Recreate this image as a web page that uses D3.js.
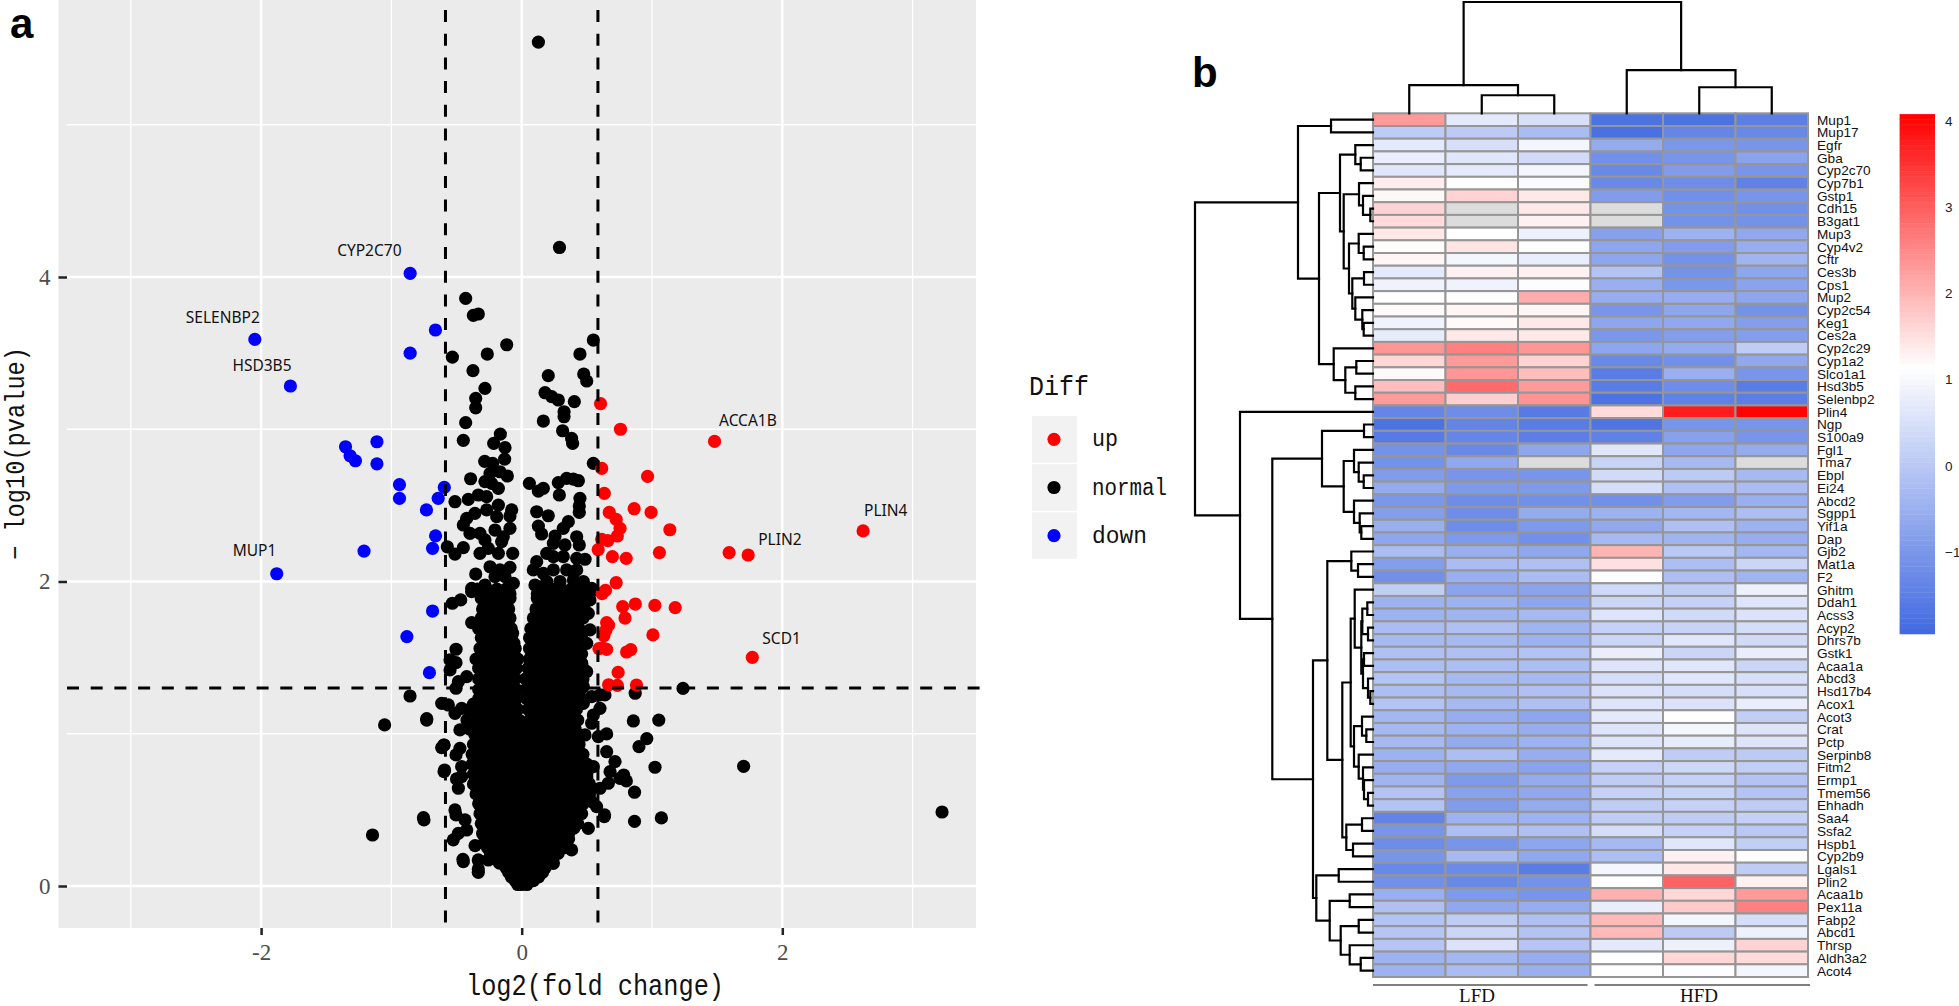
<!DOCTYPE html>
<html><head><meta charset="utf-8"><title>Volcano plot and heatmap</title>
<script src="https://cdn.jsdelivr.net/npm/d3@7/dist/d3.min.js"></script>
<style>html,body{margin:0;padding:0;background:#fff}svg{display:block}</style></head>
<body><svg id="c" width="1959" height="1006"></svg>
<script>
// ---------- Panel a data: [log2 fold change, -log10 p] ----------
const upPts=[[.605,3.168],[.758,3.0],[1.48,2.92],[.966,2.69],[.614,2.743],[.634,2.579],[.863,2.478],[.993,2.454],[.672,2.454],[.725,2.408],[1.137,2.34],[.755,2.349],[.734,2.299],[.614,2.277],[.661,2.268],[.587,2.209],[.696,2.163],[.802,2.152],[1.057,2.19],[1.592,2.19],[1.738,2.174],[2.62,2.332],[.725,1.992],[.643,1.942],[.617,1.92],[.775,1.835],[.872,1.852],[1.022,1.843],[1.178,1.828],[.793,1.76],[.667,1.714],[.652,1.73],[.646,1.68],[.631,1.644],[1.007,1.649],[.593,1.559],[.652,1.554],[.62,1.565],[.805,1.537],[.837,1.552],[1.77,1.502],[.74,1.403],[.667,1.322],[.734,1.318],[.881,1.32]];
const downPts=[[-.856,4.024],[-.662,3.652],[-.856,3.5],[-2.048,3.59],[-1.775,3.284],[-1.352,2.885],[-1.317,2.826],[-1.276,2.793],[-1.111,2.918],[-1.111,2.773],[-.938,2.636],[-.938,2.546],[-.594,2.618],[-.641,2.546],[-.731,2.47],[-.661,2.3],[-.684,2.218],[-.684,1.806],[-.881,1.638],[-.708,1.401],[-1.88,2.051],[-1.21,2.2]];
const normalScattered=[[.128,5.543],[.29,4.194],[-.43,3.86],[-.371,3.748],[-.333,3.757],[-.532,3.474],[-.374,3.385],[-.264,3.494],[-.115,3.555],[-.282,3.268],[-.353,3.203],[-.353,3.141],[-.43,3.043],[-.448,2.927],[-.164,2.968],[-.215,2.907],[-.128,2.879],[-.131,2.804],[-.284,2.789],[-.223,2.776],[-.392,2.675],[-.512,2.524],[-.41,2.539],[-.571,2.228],[-.512,2.18],[-.448,2.222],[-.353,2.049],[.55,3.586],[.447,3.494],[.204,3.352],[.476,3.363],[.499,3.317],[.179,3.24],[.23,3.214],[.281,3.192],[.404,3.181],[.325,3.115],[.325,3.082],[.166,3.054],[.314,2.99],[.383,2.94],[.391,2.907],[.55,2.776],[.059,2.645],[.128,2.594],[.166,2.612],[.289,2.568],[.281,2.649],[.345,2.677],[.396,2.673],[.435,2.662],[.447,2.546],[.442,2.496],[.442,2.454],[.115,2.458],[.204,2.432],[.128,2.364],[.153,2.312],[.422,2.294],[.358,2.393],[.319,2.349],[.256,2.299],[.442,2.24],
[-.243,2.71],[-.167,2.721],[-.11,2.693],[-.282,2.656],[-.231,2.645],[-.179,2.612],[-.333,2.568],[-.269,2.557],[-.179,2.502],[-.359,2.448],[-.422,2.415],[-.448,2.371],[-.397,2.316],[-.32,2.316],[-.269,2.47],[-.192,2.426],[-.205,2.338],[-.077,2.47],[-.09,2.43],[-.09,2.349],[-.141,2.294],[-.282,2.273],[-.154,2.262],[-.32,2.185],[-.256,2.218],[-.179,2.185],[-.069,2.185],[-.243,2.097],[-.167,2.076],[-.09,2.093],[-.205,2.032],[-.128,2.032],[-.064,1.988],[-.282,1.977],[-.384,1.955],
[.243,2.251],[.332,2.24],[.192,2.185],[.115,2.13],[.089,2.076],[.243,2.163],[.319,2.163],[.422,2.152],[.486,2.146],[.422,2.076],[.345,2.076],[.243,2.076],[.166,2.054],[.473,2.0],[.102,1.977],[.192,2.0],[.294,2.0],[.397,2.01],[.537,1.955],
[-.532,1.857],[-.468,1.879],[-.384,1.933],[-.384,1.73],[-.504,1.555],[-.55,1.485],[-.504,1.467],[-.55,1.419],[-.422,1.375],[-.486,1.342],[-.504,1.299],[-.614,1.2],[-.563,1.189],[-.461,1.167],[-.512,1.134],[-.474,1.025],[-.596,.926],[-.614,.909],[-.474,.904],[-.504,.861],[-.461,.784],[-.461,.718],[-.5,.703],[-.486,.642],[-.596,.751],[-.512,.5],[-.504,.467],[-.435,.434],[-.422,.368],[-.486,.346],[-.525,.303],[-.448,.16],[-.333,.171],[-.333,.09],[-.256,.171],[-.358,.265],[-.75,.434],[-.729,1.09],
[.634,.456],[.601,1.255],[.639,1.255],[.601,1.167],[.55,1.123],[.537,1.069],[.652,.999],[.588,.981],[.486,.992],[.652,.882],[.716,.817],[.678,.751],[.665,.675],[.601,.642],[.754,.707],[.537,.554],[.575,.521],[.511,.379],[.383,.237],[.243,.149],[.447,1.419],[.499,1.408],[.473,1.31],[.524,1.879],[.55,1.944],[.511,1.791],[.524,1.682],[.499,1.594],[.46,1.463],[.537,1.244],[.473,1.2],[.422,.5],[.55,.784],[.499,.718],
[-.857,1.248],[-1.052,1.058],[-.729,1.099],[-1.145,.335],[-.754,.449],[1.238,1.298],[.871,1.266],[.857,1.084],[1.052,1.09],[.96,.968],[.9,.915],[1.023,.78],[1.703,.786],[.866,.616],[.803,.69],[.783,.729],[.636,.467],[.866,.425],[1.072,.447],[3.226,.486],[-.597,.926],[-.592,.762],[-.451,.175],[-.333,.112]];
// dense body of the cloud, read row by row: [-log10 p, [log2 fold change ...]]
const normalRows=[
[1.95,[-.34,-.27,-.19,-.12,.15,.23,.30,.38,.45,.51]],
[1.92,[-.30,-.23,-.15,-.09,.12,.20,.27,.35,.42,.50]],
[1.89,[-.31,-.23,-.16,-.09,.12,.19,.27,.34,.42,.50]],
[1.855,[-.27,-.19,-.12,.15,.22,.30,.37,.45]],
[1.82,[-.30,-.22,-.15,-.10,.11,.18,.26,.33,.41,.48]],
[1.79,[-.28,-.20,-.13,.13,.21,.29,.36,.44]],
[1.76,[-.31,-.24,-.16,-.09,.09,.17,.24,.32,.39,.47]],
[1.725,[-.29,-.21,-.13,.11,.19,.27,.34,.42]],
[1.69,[-.33,-.26,-.18,-.11,-.08,.07,.15,.22,.30,.37,.44]],
[1.66,[-.29,-.21,-.14,-.07,.1,.18,.25,.33,.4,.46]],
[1.63,[-.31,-.23,-.16,-.08,.06,.13,.21,.28,.36,.43,.46]],
[1.595,[-.28,-.2,-.12,-.06,.09,.17,.25,.32,.4,.46]],
[1.56,[-.32,-.25,-.17,-.10,-.05,.06,.14,.21,.29,.37,.44]],
[1.525,[-.3,-.22,-.14,-.06,.09,.17,.25,.32,.4,.46]],
[1.49,[-.35,-.28,-.20,-.13,-.05,-.03,.06,.13,.20,.28,.35,.43]],
[1.46,[-.3,-.22,-.14,-.07,.08,.16,.24,.31,.38,.46]],
[1.43,[-.33,-.25,-.18,-.10,-.04,.05,.12,.20,.27,.35,.42,.47]],
[1.395,[-.3,-.22,-.15,-.07,.07,.15,.22,.3,.37,.45]],
[1.36,[-.33,-.27,-.19,-.12,-.05,.03,.11,.18,.26,.33,.41,.47]],
[1.325,[-.3,-.22,-.14,-.07,.06,.14,.21,.29,.36,.44]],
[1.29,[-.33,-.25,-.17,-.10,-.04,.03,.10,.17,.25,.32,.40,.45]],
[1.26,[-.3,-.22,-.14,-.07,.07,.14,.22,.29,.37,.44]],
[1.23,[-.33,-.27,-.19,-.12,-.04,.04,.11,.19,.26,.34,.41,.45]],
[1.195,[-.37,-.29,-.22,-.15,-.07,.08,.15,.23,.31,.38,.45]],
[1.16,[-.40,-.33,-.25,-.18,-.10,-.03,.05,.12,.20,.27,.35,.42]],
[1.125,[-.38,-.3,-.23,-.15,-.08,.09,.17,.24,.32,.4]],
[1.09,[-.42,-.35,-.27,-.20,-.12,-.05,-.02,.06,.13,.21,.28,.36,.43]],
[1.06,[-.36,-.29,-.21,-.14,-.06,.08,.15,.23,.3,.38]],
[1.03,[-.40,-.33,-.25,-.18,-.10,-.03,.04,.11,.19,.26,.34,.41]],
[.995,[-.36,-.29,-.22,-.14,-.07,0,.07,.15,.22,.3,.37,.43]],
[.96,[-.33,-.26,-.18,-.11,-.03,.03,.11,.18,.26,.33,.40]],
[.93,[-.37,-.29,-.22,-.14,-.07,.01,.08,.16,.23,.31,.38,.44]],
[.90,[-.33,-.25,-.18,-.10,-.03,.05,.12,.20,.27,.35,.40]],
[.865,[-.38,-.32,-.25,-.17,-.1,-.02,.05,.13,.2,.28,.35,.42,.47]],
[.83,[-.36,-.29,-.21,-.14,-.06,.01,.09,.16,.24,.31,.39,.45]],
[.80,[-.38,-.29,-.21,-.14,-.06,.01,.09,.16,.24,.31,.39,.45,.5]],
[.77,[-.33,-.25,-.18,-.10,-.03,.05,.12,.20,.27,.35,.42,.47]],
[.735,[-.37,-.31,-.24,-.16,-.08,-.01,.07,.14,.22,.29,.37,.44,.5]],
[.70,[-.35,-.28,-.20,-.13,-.05,.02,.10,.17,.25,.32,.40,.47,.50]],
[.67,[-.37,-.3,-.22,-.15,-.07,0,.08,.15,.23,.3,.38,.45,.52]],
[.64,[-.34,-.26,-.19,-.11,-.04,.04,.11,.19,.26,.34,.41,.49,.52]],
[.605,[-.35,-.28,-.21,-.14,-.07,.01,.08,.16,.23,.31,.38,.46,.52]],
[.57,[-.32,-.25,-.17,-.10,-.02,.05,.13,.20,.28,.35,.43,.48]],
[.54,[-.33,-.27,-.19,-.12,-.04,.03,.11,.18,.26,.33,.41,.47]],
[.51,[-.30,-.23,-.15,-.08,0,.07,.15,.22,.30,.37,.44]],
[.475,[-.32,-.25,-.17,-.1,-.02,.05,.13,.2,.27,.35,.42,.46]],
[.44,[-.29,-.21,-.14,-.06,.01,.09,.16,.24,.31,.39,.42]],
[.41,[-.31,-.24,-.16,-.09,-.01,.06,.14,.21,.28,.36,.43]],
[.38,[-.28,-.20,-.13,-.05,.03,.10,.18,.25,.33,.40]],
[.345,[-.3,-.24,-.16,-.09,-.01,.06,.14,.21,.28,.36]],
[.31,[-.28,-.21,-.13,-.06,.02,.09,.17,.24,.31,.36]],
[.28,[-.29,-.22,-.14,-.07,.01,.08,.16,.23,.3,.34]],
[.25,[-.26,-.18,-.11,-.03,.04,.12,.19,.27,.32]],
[.215,[-.24,-.16,-.09,-.01,.06,.14,.21,.28]],
[.18,[-.20,-.13,-.05,.02,.10,.17,.24]],
[.15,[-.17,-.09,-.02,.06,.13,.2]],
[.12,[-.12,-.05,.03,.10,.18]],
[.09,[-.1,-.02,.05,.12,.16]],
[.06,[-.08,-.01,.06,.13]],
[.035,[-.05,.02,.09]],
[.01,[-.03,.0,.04]]];
const volcanoLabels=[["CYP2C70",-.856,4.024],["SELENBP2",-2.048,3.59],["HSD3B5",-1.775,3.284],["MUP1",-1.88,2.051],["ACCA1B",1.48,2.92],["PLIN4",2.62,2.332],["PLIN2",1.738,2.174],["SCD1",1.77,1.502]];
const volcanoTicksX=[-2,0,2], volcanoMinorX=[-3,-1,1,3], volcanoTicksY=[0,2,4], volcanoMinorY=[1,3,5];
const cutoffsX=[-.585,.585], cutoffY=1.301;
const legendKeys=["up","normal","down"];

// ---------- Panel b data ----------
const genes=["Mup1","Mup17","Egfr","Gba","Cyp2c70","Cyp7b1","Gstp1","Cdh15","B3gat1","Mup3","Cyp4v2","Cftr","Ces3b","Cps1","Mup2","Cyp2c54","Keg1","Ces2a","Cyp2c29","Cyp1a2","Slco1a1","Hsd3b5","Selenbp2","Plin4","Ngp","S100a9","Fgl1","Tma7","Ebpl","Ei24","Abcd2","Sgpp1","Yif1a","Dap","Gjb2","Mat1a","F2","Ghitm","Ddah1","Acss3","Acyp2","Dhrs7b","Gstk1","Acaa1a","Abcd3","Hsd17b4","Acox1","Acot3","Crat","Pctp","Serpinb8","Fitm2","Ermp1","Tmem56","Ehhadh","Saa4","Ssfa2","Hspb1","Cyp2b9","Lgals1","Plin2","Acaa1b","Pex11a","Fabp2","Abcd1","Thrsp","Aldh3a2","Acot4"];
const _=null;
const expr=[
[2.3,.7,.5,-1.75,-1.75,-1.5],[.06,.05,-.25,-1.8,-1.35,-1.3],[.7,.5,.95,-.6,-1,-1.05],[.8,.65,.4,-1.15,-1.05,-.75],[.65,.7,.95,-1.3,-.9,-1.05],[1.35,1.15,1.05,-1.3,-1.2,-1.45],[1.22,1.65,1.4,-.9,-1.15,-1.05],[1.65,_,1.4,_,-1.1,-1.15],[1.55,_,1.3,_,-1.1,-1.1],[1.4,1.12,.85,-.8,-.45,-.65],[1.18,1.45,1.12,-.7,-.9,-.55],[1.25,.95,.8,-.7,-1.1,-.4],[.7,1.3,1.3,-.1,-1.1,-.7],[.9,.9,1.1,-.5,-1,-.75],[1.16,1.12,2.1,-.55,-.55,-.7],[1.2,1.25,1.25,-1.05,-.7,-1.1],[.9,1.2,1.4,-.7,-.65,-.85],[.75,1.4,1.4,-1,-.85,-.85],[2.35,2.6,2.35,-.7,-.6,.1],[1.6,2.3,1.65,-1.3,-1.15,-.65],[1.2,2.35,1.9,-1.55,-.5,-1.05],[1.9,2.85,2.3,-1.55,-1.2,-1.55],[2.3,1.7,2.4,-1.75,-1.45,-1.5],
[-1.35,-1.2,-1.6,1.55,3.75,4.05],[-1.75,-1.4,-1.55,-1.7,-1.05,-1.05],[-1.6,-1.35,-1.5,-1.45,-.8,-1.05],[-1.1,-1.3,-.7,.65,-.7,-.6],[-1.1,-.65,_,.25,-.3,_],[-.9,-1.05,-1.05,.4,.05,-.3],[-.6,-.95,-.95,.45,-.15,-.25],[-1,-1.2,-1.15,-1.15,-.9,-.5],[-.85,-1.2,-.6,-.45,-.35,-.2],[-.5,-1.2,-.95,-.65,-.15,-.45],[-.7,-.95,-1.15,-.3,-.4,-.55],[-.25,-.5,-.65,2,0,-.35],[-.85,-.25,-.15,1.5,-.2,.3],[-1.15,-.5,-.25,1.08,-.2,-.4],
[.15,-.75,-.75,.35,.1,.85],[-.45,-.45,-.7,.3,.2,.6],[-.45,-.4,-.3,.6,.4,.55],[-.25,-.15,-.4,.2,.25,.45],[-.3,-.3,-.45,.3,.65,.4],[-.15,-.15,-.1,.8,.3,.8],[-.2,-.2,-.2,.6,.65,.3],[-.1,-.3,-.3,.45,.65,.5],[-.2,-.3,-.15,.55,.45,.5],[-.1,-.3,-.15,.6,.55,.8],[-.35,-.55,-.7,.7,1.15,.15],[-.3,-.45,-.55,.6,.95,.6],[-.3,-.6,-.45,.6,.75,.6],[-.45,-.2,-.55,.7,.1,.05],[-.55,-.65,-.75,.2,.35,.15],[-.4,-.95,-.6,.1,.2,-.1],[-.1,-.8,-.65,.2,.25,-.1],[-.1,-.9,-.6,.1,.2,.1],[-1.4,-.45,-.45,.1,.1,.2],[-1.05,-.2,-.15,.45,.2,0],[-1.2,-1.05,-.7,-.3,.65,.15],[-1.05,-.3,-.65,-.2,1.3,1.15],[-1.3,-1.25,-1.55,.95,1.4,.1],[-1.15,-1.3,-1.1,1.12,2.95,1.3],[-.5,-.95,-1.05,2.05,1.6,2.3],[-.15,-.65,-.55,.8,1.75,2.6],[-.1,.1,-.15,1.95,.95,.45],[-.05,.3,-.1,1.95,.05,.85],[-.05,.55,-.05,.7,.85,1.65],[-.45,-.35,-.55,1.12,1.6,1.55],[-.45,-.25,-.5,1.12,1.1,.95]];
const samples=["L1","L2","L3","H1","H2","H3"];
const groups=[["LFD",0,2],["HFD",3,5]];
const colorbarTicks=[4,3,2,1,0,-1];
// dendrograms: [merge height, child, child]
const rowTree=[178,
 [75,[42,"Mup1","Mup17"],
  [54,
   [33,[17.7,"Egfr",[12.3,"Gba","Cyp2c70"]],
    [29.3,[14,"Cyp7b1",[10,"Gstp1",[2.7,"Cdh15","B3gat1"]]],
     [24,[14.3,"Mup3",[9.3,"Cyp4v2","Cftr"]],
      [20.7,[9,"Ces3b","Cps1"],[17.7,"Mup2",[10.7,"Cyp2c54",[9.3,"Keg1","Ces2a"]]]]]]],
   [39.3,"Cyp2c29",[27.7,[16.7,"Cyp1a2","Slco1a1"],[17.7,"Hsd3b5","Selenbp2"]]]]],
 [133,"Plin4",
  [100.7,
   [51,[9,"Ngp","S100a9"],[29.3,[19,"Fgl1",[14.3,"Tma7",[9.3,"Ebpl","Ei24"]]],[19,"Abcd2",[13.3,"Sgpp1",[11.7,"Yif1a","Dap"]]]]],
   [60,
    [45.7,[21.7,"Gjb2",[15,"Mat1a","F2"]],
     [30.7,
      [22.3,
       [18.3,"Ghitm",[11.7,[10.7,[5.7,"Ddah1","Acss3"],[5,"Acyp2","Dhrs7b"]],[10,[9,"Gstk1","Acaa1a"],[5,"Abcd3",[2.7,"Hsd17b4","Acox1"]]]]],
       [19,[11,"Acot3",[6.7,"Crat","Pctp"]],[14.3,"Serpinb8",[10,"Fitm2",[9,"Ermp1",[5,"Tmem56","Ehhadh"]]]]]],
      [26.7,[11,"Saa4","Ssfa2"],[20,"Hspb1","Cyp2b9"]]]],
    [56.7,[34.3,"Lgals1","Plin2"],[43.3,[23.3,"Acaa1b","Pex11a"],[32.3,[14.3,"Fabp2","Abcd1"],[23.3,"Thrsp",[12.3,"Aldh3a2","Acot4"]]]]]]]]];
const colTree=[111,[28,"L1",[18,"L2","L3"]],[43,"H1",[26,"H2","H3"]]];

// ---------- Drawing ----------
const svg=d3.select("#c");
const SERIF="'Liberation Serif',serif", SANS="'Liberation Sans',Arial,sans-serif", MONO="'Liberation Mono',monospace";
const normalPts=normalScattered.concat(normalRows.flatMap(([y,xs])=>xs.map(x=>[x,y])));
const x=d3.scaleLinear().domain([-2,2]).range([261.1,782.3]);
const y=d3.scaleLinear().domain([0,4]).range([886,277]);
const P={l:58.5,l2:67,r:976,t:0,b:928};
const a=svg.append("g");
a.append("rect").attr("x",P.l).attr("y",P.t).attr("width",P.r-P.l).attr("height",P.b-P.t).attr("fill","#ebebeb");
const grid=(vals,w)=>a.append("g").selectAll("line").data(vals).join("line").attr("x1",d=>x(d)).attr("x2",d=>x(d)).attr("y1",P.t).attr("y2",P.b).attr("stroke","#fff").attr("stroke-width",w);
grid(volcanoMinorX,1.3);grid(volcanoTicksX,2.5);
const hgrid=(vals,w)=>a.append("g").selectAll("line").data(vals).join("line").attr("x1",P.l2).attr("x2",P.r).attr("y1",d=>y(d)).attr("y2",d=>y(d)).attr("stroke","#fff").attr("stroke-width",w);
hgrid(volcanoMinorY,1.3);hgrid(volcanoTicksY,2.5);
const axL=d3.axisLeft(y).tickValues(volcanoTicksY).tickSize(8.5).tickPadding(8).tickFormat(d3.format("d"));
const axB=d3.axisBottom(x).tickValues(volcanoTicksX).tickSize(7).tickPadding(9).tickFormat(d=>d<0?"-"+(-d):d);
const styleAxis=g=>{g.select(".domain").remove();g.selectAll("line").attr("stroke","#222").attr("stroke-width",2.5);g.selectAll("text").attr("fill","#4d4d4d").style("font-family",SERIF).style("font-size","23px");};
a.append("g").attr("transform",`translate(${P.l2},0)`).call(axL).call(styleAxis);
a.append("g").attr("transform",`translate(0,${P.b})`).call(axB).call(styleAxis);
const dots=(pts,c)=>a.append("g").selectAll("circle").data(pts).join("circle").attr("cx",d=>x(d[0])).attr("cy",d=>y(d[1])).attr("r",6.6).attr("fill",c);
dots(normalPts,"#000");dots(upPts,"#ff0000");dots(downPts,"#0000ff");
a.append("g").selectAll("line").data(cutoffsX).join("line").attr("x1",d=>x(d)).attr("x2",d=>x(d)).attr("y1",10).attr("y2",P.b).attr("stroke","#000").attr("stroke-width",3).attr("stroke-dasharray","12 11.7");
a.append("line").attr("x1",P.l2).attr("x2",983).attr("y1",y(cutoffY)).attr("y2",y(cutoffY)).attr("stroke","#000").attr("stroke-width",3).attr("stroke-dasharray","12 11.7");
// point labels: offset from the labelled point
const labelOffset={CYP2C70:[-73,-17],SELENBP2:[-69,-16.5],HSD3B5:[-58,-15],MUP1:[-44,-18],ACCA1B:[4.5,-15],PLIN4:[1,-15],PLIN2:[10,-10],SCD1:[10,-13]};
a.append("g").selectAll("text").data(volcanoLabels).join("text").attr("x",d=>x(d[1])+labelOffset[d[0]][0]).attr("y",d=>y(d[2])+labelOffset[d[0]][1]).attr("font-family","'Noto Sans',sans-serif").attr("font-size",15.5).attr("fill","#111").text(d=>d[0]);
// axis titles
a.append("text").attr("x",466).attr("y",995).attr("textLength",258).attr("lengthAdjust","spacingAndGlyphs").attr("font-family",MONO).attr("font-size",29).attr("fill","#111").text("log2(fold change)");
a.append("text").attr("transform","translate(24,560) rotate(-90)").attr("textLength",213).attr("lengthAdjust","spacingAndGlyphs").attr("font-family",MONO).attr("font-size",27).attr("fill","#111").text("− log10(pvalue)");
// legend
const legendY=d3.scaleBand().domain(legendKeys).range([416,559]).paddingInner(.03);
const keyColor=d3.scaleOrdinal().domain(legendKeys).range(["#ff0000","#000000","#0000ff"]);
const leg=a.append("g");
leg.append("text").attr("x",1029).attr("y",395).attr("textLength",60).attr("lengthAdjust","spacingAndGlyphs").attr("font-family",MONO).attr("font-size",27).attr("fill","#111").text("Diff");
leg.selectAll("rect").data(legendKeys).join("rect").attr("x",1032).attr("width",45).attr("y",d=>legendY(d)).attr("height",legendY.bandwidth()).attr("fill","#f2f2f2");
leg.selectAll("circle").data(legendKeys).join("circle").attr("cx",1054).attr("cy",d=>legendY(d)+legendY.bandwidth()/2).attr("r",6.6).attr("fill",d=>keyColor(d));
const legW={up:26,normal:75,down:55};
leg.selectAll("text.k").data(legendKeys).join("text").attr("class","k").attr("x",1092).attr("y",d=>legendY(d)+legendY.bandwidth()/2+7).attr("textLength",d=>legW[d]).attr("lengthAdjust","spacingAndGlyphs").attr("font-family",MONO).attr("font-size",23).attr("fill","#111").text(d=>d);
svg.append("text").attr("x",10).attr("y",38).attr("font-family",SANS).attr("font-weight",700).attr("font-size",42).text("a");
svg.append("text").attr("x",1192).attr("y",87).attr("font-family",SANS).attr("font-weight",700).attr("font-size",42).text("b");

// heatmap
const rowS=d3.scaleBand().domain(genes).range([113.3,977]);
const colS=d3.scaleBand().domain(samples).range([1373,1808]);
const color=d3.scaleLinear().domain([-1.95,1.14,4.08]).range(["#4169e1","#ffffff","#ff0000"]);
const cells=expr.flatMap((r,i)=>r.map((v,j)=>({g:genes[i],s:samples[j],v})));
const b=svg.append("g");
b.append("g").selectAll("rect").data(cells).join("rect").attr("x",d=>colS(d.s)).attr("y",d=>rowS(d.g)).attr("width",colS.bandwidth()).attr("height",rowS.bandwidth()).attr("fill",d=>d.v===null?"#dcdcdc":color(d.v)).attr("stroke","#969696").attr("stroke-width",2);
b.append("g").selectAll("text").data(genes).join("text").attr("x",1817).attr("y",d=>rowS(d)+rowS.bandwidth()/2).attr("dy","0.36em").attr("font-family",SANS).attr("font-size",13.6).attr("fill","#111").text(d=>d);
// dendrograms
const rowH=d3.scaleLinear().domain([0,178]).range([1373,1195]);
const colH=d3.scaleLinear().domain([0,111]).range([113.3,2]);
const dg=b.append("g").attr("stroke","#000").attr("stroke-width",2.2).attr("fill","none").attr("stroke-linecap","square");
function dendro(node,pos,seg){
 if(typeof node==="string") return [pos(node),0];
 const [h,l,r]=node,A=dendro(l,pos,seg),B=dendro(r,pos,seg);
 seg([[A[1],A[0]],[h,A[0]],[h,B[0]],[B[1],B[0]]]);
 return [(A[0]+B[0])/2,h];
}
dendro(rowTree,g=>rowS(g)+rowS.bandwidth()/2,pts=>dg.append("path").attr("d",d3.line()(pts.map(([h,p])=>[rowH(h),p]))));
dendro(colTree,s=>colS(s)+colS.bandwidth()/2,pts=>dg.append("path").attr("d",d3.line()(pts.map(([h,p])=>[p,colH(h)]))));
// group bars
groups.forEach(([name,i,j],k)=>{
 const x0=colS(samples[i])+(k?4:0),x1=colS(samples[j])+colS.bandwidth()+(k?2:-3);
 b.append("line").attr("x1",x0).attr("x2",x1).attr("y1",985).attr("y2",985).attr("stroke","#555").attr("stroke-width",1.5);
 b.append("text").attr("x",k?1699:1477).attr("y",1002).attr("text-anchor","middle").attr("font-family",SERIF).attr("font-size",19).attr("fill","#111").text(name);
});
// colour bar
const cbY=d3.scaleLinear().domain([-1,4]).range([552,121]);
const stepH=(4.08+1.95)/100;
const steps=d3.range(100).map(i=>-1.95+i*stepH);
b.append("g").selectAll("rect").data(steps).join("rect").attr("x",1899.6).attr("width",35.4).attr("y",d=>cbY(d+stepH)).attr("height",d=>cbY(d)-cbY(d+stepH)+.4).attr("fill",d=>color(d+stepH/2));
b.append("g").selectAll("text").data(colorbarTicks).join("text").attr("x",1945).attr("y",d=>cbY(d)).attr("dy","0.36em").attr("font-family",SANS).attr("font-size",13.5).attr("fill","#222").text(d=>d<0?"−"+(-d):d);
</script></body></html>
